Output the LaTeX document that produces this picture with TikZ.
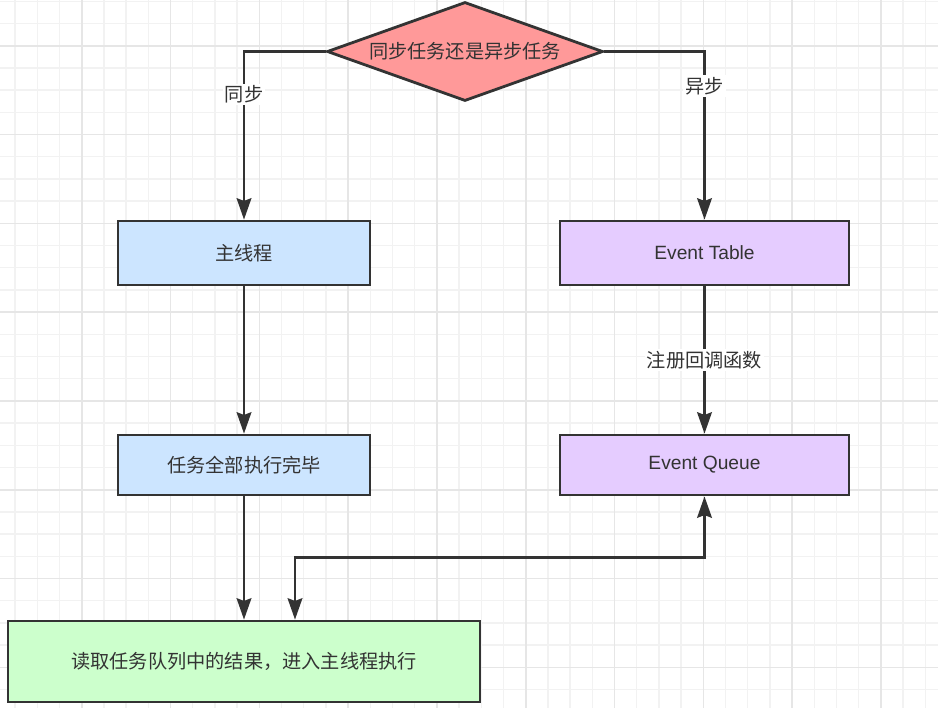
\documentclass[tikz,border=0pt]{standalone}
\usepackage{fontspec}
\setmainfont{Liberation Sans}
\newfontfamily\cjk{Noto Sans CJK SC}
\usetikzlibrary{shapes.geometric,arrows.meta}

\definecolor{ink}{HTML}{333333}
\definecolor{gridfine}{HTML}{F2F2F2}
\definecolor{gridbold}{HTML}{E6E6E6}
\definecolor{decfill}{HTML}{FF9999}
\definecolor{syncfill}{HTML}{CCE5FF}
\definecolor{asyncfill}{HTML}{E5CCFF}
\definecolor{donefill}{HTML}{CCFFCC}

\begin{document}
\begin{tikzpicture}[x=0.75pt, y=-0.75pt,
    every node/.style={text=ink, font=\fontsize{14.4}{17}\selectfont},
    box/.style={rectangle, draw=ink, line width=2.1pt, inner sep=0pt},
    flow/.style={draw=ink, line width=2pt, -{Stealth[length=16pt, width=11pt, inset=2pt]}},
    biflow/.style={draw=ink, line width=2pt, {Stealth[length=16pt, width=11pt, inset=2pt]}-{Stealth[length=16pt, width=11pt, inset=2pt]}},
    edgelabel/.style={fill=white, inner sep=1.5pt, font=\cjk\fontsize{14.4}{17}\selectfont}]

    \useasboundingbox[fill=white] (0,0) rectangle (938,708);
    % background grid
    \foreach \i in {-3,...,38}
        \draw[gridfine, line width=1pt] ({81.7+22.2*\i},0) -- ({81.7+22.2*\i},708);
    \foreach \i in {-2,...,30}
        \draw[gridfine, line width=1pt] (0,{45.7+22.2*\i}) -- (938,{45.7+22.2*\i});
    \foreach \i in {0,...,9}
        \draw[gridbold, line width=1.2pt] ({81.7+88.8*\i},0) -- ({81.7+88.8*\i},708);
    \foreach \i in {0,...,7}
        \draw[gridbold, line width=1.2pt] (0,{45.7+88.8*\i}) -- (938,{45.7+88.8*\i});

    \node (q) at (465, 51.5) [diamond, draw=ink, line width=2.1pt, fill=decfill, inner sep=0pt,
        aspect=2.79, minimum width=207pt, minimum height=74.25pt] {\cjk 同步任务还是异步任务};

    \node (main) at (244, 253) [box, fill=syncfill, minimum width=189pt, minimum height=48pt] {\cjk 主线程};

    \node (etab) at (704.5, 253) [box, fill=asyncfill, minimum width=216.75pt, minimum height=48pt] {Event Table};

    \node (done) at (244, 465) [box, fill=syncfill, minimum width=189pt, minimum height=45pt] {\cjk 任务全部执行完毕};

    \node (equeue) at (704.5, 465) [box, fill=asyncfill, minimum width=216.75pt, minimum height=45pt] {Event Queue};

    \node (res) at (244, 661.5) [box, fill=donefill, minimum width=354pt, minimum height=60.75pt] {\cjk 读取任务队列中的结果，进入主线程执行};

    \draw[flow] (q.west) -| node[edgelabel, pos=0.628] {同步} (main.north);
    \draw[flow] (q.east) -| node[edgelabel, pos=0.602] {异步} (etab.north);
    \draw[flow] (main) -- (done);
    \draw[flow] (etab) -- node[edgelabel] {注册回调函数} (equeue);
    \draw[flow] (done) -- (res);
    \draw[biflow] ([xshift=38.25pt]res.north) -- ++(0,-62) -| (equeue.south);
\end{tikzpicture}
\end{document}
